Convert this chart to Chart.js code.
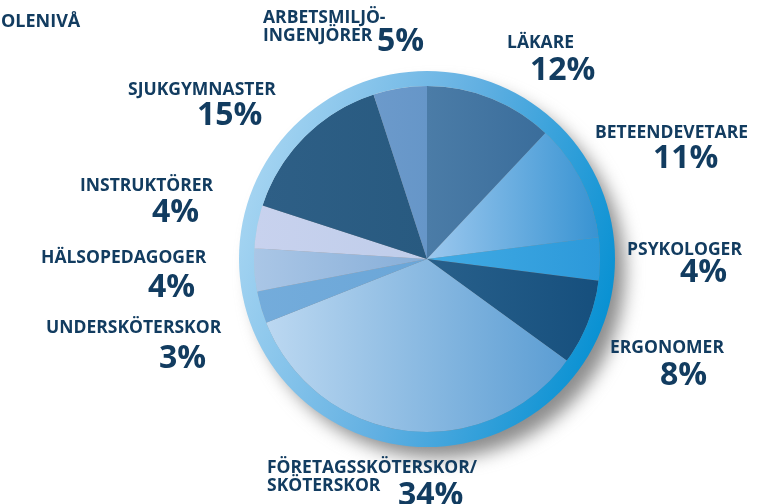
<!DOCTYPE html>
<html lang="sv">
<head>
<meta charset="UTF-8" />
<title>Yrkesgrupper</title>
<script src="https://cdn.jsdelivr.net/npm/chart.js"></script>
<style>
  html, body { margin: 0; padding: 0; background: #fff; }
  #wrap { width: 779px; height: 504px; position: relative; }
</style>
</head>
<body>
<div id="wrap"><canvas id="pie" width="779" height="504"></canvas></div>
<script>
// data, clockwise from 12 o'clock
const categories = ['LÄKARE', 'BETEENDEVETARE', 'PSYKOLOGER', 'ERGONOMER',
  'FÖRETAGSSKÖTERSKOR/\nSKÖTERSKOR', 'UNDERSKÖTERSKOR', 'HÄLSOPEDAGOGER',
  'INSTRUKTÖRER', 'SJUKGYMNASTER', 'ARBETSMILJÖ-\nINGENJÖRER'];
const shares = [12, 11, 4, 8, 34, 3, 4, 4, 15, 5];
const percentLabels = shares.map(v => v + '%');
const title = 'OLENIVÅ';

// left / right colour of each slice's horizontal gradient
const sliceColors = [
  ['#4b7ca7', '#3a6d9b'],
  ['#9cc8ee', '#3893d2'],
  ['#42abe4', '#2c99da'],
  ['#28608b', '#164f7d'],
  ['#bcd8f1', '#5b9dd3'],
  ['#74acdb', '#6aa6d8'],
  ['#aac6e6', '#86aed8'],
  ['#c8d2ee', '#bfcdea'],
  ['#2e5f86', '#285a80'],
  ['#6c9acb', '#6696c8']
];

// where each label sits: [x, baseline of first line] of the name and [x, baseline] of the percent
const labelLayout = [
  { name: [507, 48], pct: [530, 80] },
  { name: [595, 138], pct: [653, 168] },
  { name: [627, 255], pct: [680, 282] },
  { name: [610, 353], pct: [660, 385] },
  { name: [267, 473], pct: [398, 505] },
  { name: [46, 333], pct: [159, 368] },
  { name: [41, 263], pct: [148, 297] },
  { name: [80, 191], pct: [152, 222] },
  { name: [128, 95], pct: [197, 125] },
  { name: [263, 23], pct: [377, 51] }
];

const RING = 15, PIE = 173;
const textColor = '#123c60';

function pieGeom(chart) {
  const a = chart.chartArea;
  const cx = (a.left + a.right) / 2, cy = (a.top + a.bottom) / 2;
  const R = Math.min(a.right - a.left, a.bottom - a.top) / 2;
  return { cx, cy, R, r: R * PIE / (PIE + RING) };
}

function sliceFill(c) {
  const cols = sliceColors[c.dataIndex];
  if (!c.chart.chartArea) return cols[0];
  const { cx, r } = pieGeom(c.chart);
  const total = shares.reduce((s, v) => s + v, 0);
  const before = shares.slice(0, c.dataIndex).reduce((s, v) => s + v, 0);
  const a0 = -Math.PI / 2 + before / total * Math.PI * 2;
  const a1 = a0 + shares[c.dataIndex] / total * Math.PI * 2;
  const xs = [0, Math.cos(a0), Math.cos(a1)];
  [0, Math.PI].forEach(k => { if (k > a0 && k < a1) xs.push(Math.cos(k)); });
  const g = c.chart.ctx.createLinearGradient(cx + r * Math.min(...xs), 0, cx + r * Math.max(...xs), 0);
  g.addColorStop(0, cols[0]);
  g.addColorStop(1, cols[1]);
  return g;
}

function ringFill(c) {
  if (!c.chart.chartArea) return '#5fb0e0';
  const { cx, cy, R } = pieGeom(c.chart);
  const g = c.chart.ctx.createLinearGradient(cx - R, cy - R * 0.3, cx + R, cy + R * 0.3);
  g.addColorStop(0, '#a6d5f2');
  g.addColorStop(0.5, '#62b0e2');
  g.addColorStop(1, '#0590d2');
  return g;
}

// soft grey drop shadow to the lower right of the ring
const shadowPlugin = {
  id: 'ringShadow',
  beforeDatasetsDraw(chart) {
    const { cx, cy, R } = pieGeom(chart);
    const ctx = chart.ctx;
    ctx.save();
    ctx.filter = 'blur(9px)';
    ctx.fillStyle = 'rgba(120,120,120,0.85)';
    ctx.beginPath();
    ctx.arc(cx + 12, cy + 13, R - 2, 0, Math.PI * 2);
    ctx.fill();
    ctx.restore();
  }
};

const labelPlugin = {
  id: 'sliceLabels',
  afterDraw(chart) {
    const ctx = chart.ctx;
    ctx.save();
    ctx.fillStyle = textColor;
    ctx.textAlign = 'left';
    ctx.textBaseline = 'alphabetic';
    ctx.font = 'bold 18px "Open Sans"';
    ctx.fillText(title, 1, 27);
    categories.forEach((name, i) => {
      const pos = labelLayout[i];
      ctx.font = 'bold 17.5px "Open Sans"';
      name.split('\n').forEach((ln, j) => {
        ctx.fillText(ln, pos.name[0], pos.name[1] + j * 18);
      });
      ctx.font = 'bold 32px "Open Sans"';
      ctx.fillText(percentLabels[i], pos.pct[0], pos.pct[1]);
    });
    ctx.restore();
  }
};

new Chart(document.getElementById('pie'), {
  type: 'pie',
  data: {
    labels: categories,
    datasets: [
      { data: [100], weight: RING, backgroundColor: ringFill, borderWidth: 0, hoverOffset: 0 },
      { data: shares, weight: PIE, backgroundColor: sliceFill, borderWidth: 0, hoverOffset: 0 }
    ]
  },
  options: {
    responsive: false,
    animation: false,
    events: [],
    layout: { padding: { left: 239, right: 164, top: 71, bottom: 57 } },
    plugins: { legend: { display: false }, tooltip: { enabled: false } }
  },
  plugins: [shadowPlugin, labelPlugin]
});
</script>
</body>
</html>
